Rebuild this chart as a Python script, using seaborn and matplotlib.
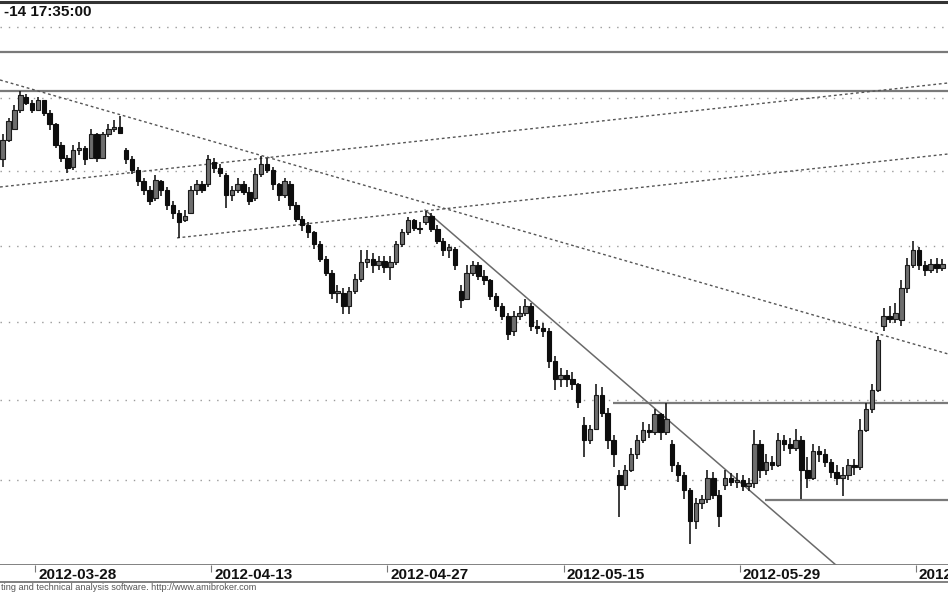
import numpy as np
import pandas as pd
import matplotlib
matplotlib.use("Agg")
import matplotlib.pyplot as plt
import matplotlib.transforms as mtransforms
import seaborn as sns

sns.set_style("white")
plt.rcParams['font.family'] = ['Liberation Sans', 'DejaVu Sans']

# x axis: bar index, 3 bars per trading day
tick_pos = [5.5, 35.5, 65.5, 95.5, 125.5, 155.5]
tick_labels = ["2012-03-28", "2012-04-13", "2012-04-27", "2012-05-15", "2012-05-29", "2012-06-12"]
grid_levels = [2000, 2050, 2100, 2150, 2200, 2250, 2300]

opens = [2208, 2221, 2229, 2242, 2251, 2247, 2242, 2249, 2240, 2232,
         2218, 2209, 2203, 2214, 2216, 2209, 2225, 2209, 2225, 2229,
         2230, 2214, 2208, 2201, 2193, 2187, 2182, 2193, 2187, 2177,
         2172, 2167, 2172, 2187, 2191, 2191, 2206, 2202, 2197, 2184,
         2187, 2191, 2186, 2182, 2198, 2205, 2201, 2191, 2184, 2191,
         2177, 2168, 2164, 2159, 2151, 2141, 2132, 2119, 2119, 2110,
         2120, 2128, 2139, 2141, 2137, 2140, 2136, 2139, 2151, 2159,
         2167, 2162, 2166, 2170, 2161, 2153, 2147, 2148, 2120, 2115,
         2132, 2137, 2130, 2127, 2117, 2110, 2104, 2094, 2104, 2106,
         2110, 2097, 2096, 2094, 2075, 2063, 2066, 2063, 2060, 2034,
         2025, 2032, 2053, 2042, 2025, 2003, 1997, 2006, 2016, 2025,
         2031, 2030, 2041, 2030, 2022, 2009, 2003, 1994, 1975, 1986,
         1988, 2001, 1991, 1997, 2001, 1999, 2000, 1996, 1998, 2022,
         2006, 2011, 2009, 2025, 2022, 2020, 2025, 2006, 2001, 2018,
         2016, 2011, 2005, 2001, 2003, 2009, 2008, 2031, 2044, 2056,
         2097, 2104, 2102, 2101, 2122, 2137, 2147, 2137, 2134, 2138, 2135]
closes = [2221, 2234, 2242, 2252, 2247, 2242, 2249, 2240, 2232, 2218,
          2209, 2202, 2214, 2216, 2208, 2225, 2209, 2225, 2229, 2230,
          2226, 2208, 2201, 2193, 2187, 2180, 2194, 2187, 2177, 2172,
          2166, 2170, 2187, 2191, 2187, 2208, 2202, 2199, 2184, 2187,
          2191, 2186, 2180, 2198, 2205, 2201, 2191, 2184, 2193, 2177,
          2168, 2164, 2159, 2151, 2141, 2132, 2119, 2120, 2110, 2120,
          2128, 2139, 2141, 2137, 2140, 2136, 2139, 2151, 2159, 2167,
          2162, 2161, 2170, 2161, 2153, 2147, 2149, 2137, 2114, 2132,
          2137, 2130, 2127, 2117, 2110, 2104, 2092, 2104, 2106, 2110,
          2097, 2096, 2094, 2075, 2063, 2066, 2063, 2060, 2049, 2025,
          2032, 2053, 2042, 2025, 2016, 1997, 2006, 2016, 2025, 2031,
          2030, 2041, 2030, 2038, 2009, 2003, 1994, 1975, 1986, 1988,
          2001, 1991, 1978, 2001, 1999, 2000, 1996, 1998, 2022, 2006,
          2011, 2009, 2025, 2022, 2020, 2025, 2006, 2001, 2018, 2016,
          2011, 2005, 2001, 2003, 2009, 2008, 2031, 2044, 2056, 2088,
          2104, 2102, 2106, 2122, 2137, 2147, 2137, 2134, 2138, 2135, 2138]
highs = [2225, 2236, 2245, 2255, 2253, 2249, 2251, 2249, 2242, 2233,
         2220, 2211, 2218, 2220, 2217, 2229, 2226, 2227, 2232, 2235,
         2238, 2216, 2210, 2203, 2195, 2190, 2197, 2194, 2189, 2180,
         2174, 2174, 2190, 2194, 2193, 2211, 2209, 2205, 2199, 2190,
         2195, 2193, 2189, 2202, 2210, 2209, 2203, 2192, 2195, 2193,
         2179, 2170, 2166, 2160, 2153, 2143, 2134, 2124, 2122, 2123,
         2131, 2147, 2147, 2145, 2143, 2143, 2143, 2153, 2161, 2169,
         2168, 2166, 2173, 2172, 2164, 2155, 2151, 2149, 2124, 2137,
         2140, 2139, 2134, 2128, 2119, 2112, 2106, 2107, 2110, 2115,
         2112, 2101, 2099, 2096, 2078, 2070, 2069, 2068, 2061, 2039,
         2034, 2060, 2058, 2045, 2028, 2006, 2009, 2020, 2028, 2036,
         2035, 2044, 2042, 2048, 2025, 2011, 2005, 1995, 1989, 1991,
         2006, 2005, 1994, 2006, 2004, 2004, 2003, 2001, 2031, 2025,
         2016, 2015, 2029, 2028, 2026, 2032, 2027, 2014, 2022, 2021,
         2019, 2013, 2009, 2008, 2013, 2013, 2038, 2048, 2060, 2091,
         2109, 2110, 2112, 2127, 2142, 2153, 2149, 2140, 2141, 2142, 2141]
lows = [2203, 2220, 2228, 2240, 2245, 2240, 2241, 2238, 2228, 2216,
        2206, 2199, 2201, 2211, 2204, 2208, 2206, 2208, 2223, 2227,
        2225, 2205, 2198, 2190, 2184, 2177, 2180, 2183, 2174, 2168,
        2155, 2166, 2171, 2184, 2185, 2189, 2199, 2196, 2175, 2180,
        2185, 2184, 2177, 2180, 2196, 2199, 2187, 2180, 2182, 2174,
        2166, 2160, 2155, 2148, 2139, 2130, 2115, 2112, 2105, 2105,
        2118, 2126, 2135, 2132, 2134, 2132, 2127, 2137, 2149, 2157,
        2160, 2158, 2164, 2159, 2151, 2143, 2142, 2134, 2109, 2114,
        2130, 2127, 2124, 2114, 2107, 2101, 2088, 2091, 2101, 2104,
        2094, 2092, 2090, 2070, 2056, 2058, 2058, 2056, 2045, 2014,
        2022, 2031, 2039, 2019, 2008, 1977, 1994, 2005, 2013, 2023,
        2026, 2028, 2025, 2028, 2005, 1999, 1988, 1961, 1970, 1982,
        1986, 1988, 1971, 1994, 1996, 1995, 1993, 1993, 1995, 2001,
        2003, 2006, 2008, 2018, 2016, 2018, 1988, 1995, 2000, 2011,
        2008, 2001, 1997, 1990, 2000, 2003, 2006, 2030, 2042, 2055,
        2094, 2099, 2099, 2097, 2119, 2135, 2134, 2130, 2132, 2132, 2133]

# drawn trend lines (bar index, price)
down_x, down_y = [-0.46, 160.95], [2262.7, 2079.3]
up1_x, up1_y = [-0.46, 160.95], [2189.2, 2260.6]
up2_x, up2_y = [29.68, 160.95], [2155.1, 2211.6]
fall_x, fall_y = [71.9, 143.9], [2173.8, 1942.0]
hline_levels = [2282.4, 2255.1, 2048.1, 1987.7]
hline_starts = [-0.46, -0.46, 103.9, 129.8]

df = pd.DataFrame({"open": opens, "high": highs, "low": lows, "close": closes})
df["bar"] = np.arange(len(df))
up = df["close"] >= df["open"]

fig = plt.figure(figsize=(9.48, 5.93), dpi=100)
ax = fig.add_axes([0, 28 / 593, 1, 563 / 593])
ax2 = fig.add_axes([0, 11 / 593, 1, 17 / 593], sharex=ax)

ax.set_yscale("log")
ax.set_ylim(1948.2, 2317.8)
ax.set_xlim(-0.46, 160.95)

for lvl in grid_levels:
    ax.axhline(lvl, color="#9a9a9a", lw=1.0, linestyle=(0, (1, 5)), zorder=1)

for lvl, x0 in zip(hline_levels, hline_starts):
    ax.hlines(lvl, x0, 160.95, color="#7a7a7a", lw=1.6, zorder=2)

dotted = (0, (2, 2))
sns.lineplot(x=down_x, y=down_y, ax=ax, color="#555555", lw=1.0, linestyle=dotted, zorder=2)
sns.lineplot(x=up1_x, y=up1_y, ax=ax, color="#555555", lw=1.0, linestyle=dotted, zorder=2)
sns.lineplot(x=up2_x, y=up2_y, ax=ax, color="#555555", lw=1.0, linestyle=dotted, zorder=2)
sns.lineplot(x=fall_x, y=fall_y, ax=ax, color="#6a6a6a", lw=1.1, zorder=2)

# candles
ax.vlines(df["bar"], df["low"], df["high"], color="#1a1a1a", lw=1.2, zorder=3)
body_lo = np.minimum(df["open"], df["close"])
body_h = np.abs(df["close"] - df["open"])
ax.bar(df["bar"][up], body_h[up], bottom=body_lo[up], width=0.75,
       color="#6e6e6e", edgecolor="#1a1a1a", lw=0.8, zorder=4)
ax.bar(df["bar"][~up], body_h[~up], bottom=body_lo[~up], width=0.75,
       color="#0d0d0d", edgecolor="#0d0d0d", lw=0.8, zorder=4)

ax.tick_params(which="both", left=False, labelleft=False, bottom=False, labelbottom=False)
ax.set_xlabel("")
ax.set_ylabel("")
for s in ["left", "right"]:
    ax.spines[s].set_visible(False)
ax.spines["top"].set_color("#333333")
ax.spines["top"].set_linewidth(2.2)
ax.spines["bottom"].set_color("#777777")
ax.spines["bottom"].set_linewidth(1.3)

# date strip
ax2.set_ylim(0, 1)
ax2.set_yticks([])
ax2.set_xticks(tick_pos)
ax2.tick_params(axis="x", top=True, bottom=False, labelbottom=False, direction="in",
                length=5, width=0.8, color="#777777")
for s in ["left", "right", "top"]:
    ax2.spines[s].set_visible(False)
ax2.spines["bottom"].set_color("#777777")
ax2.spines["bottom"].set_linewidth(1.3)
trans = mtransforms.blended_transform_factory(ax2.transData, ax2.transAxes)
shift = mtransforms.ScaledTranslation(3 / 100, 0, fig.dpi_scale_trans)
for p, lab in zip(tick_pos, tick_labels):
    ax2.text(p, 0.42, lab, transform=trans + shift, ha="left", va="center",
             fontsize=11, fontweight="bold", color="#111111")

# visible parts of the title and the footer, as in the cropped reference
fig.text(4 / 948, 1 - 12 / 593, "-14 17:35:00", ha="left", va="center",
         fontsize=11, fontweight="bold", color="#111111")
fig.text(1 / 948, 1 - 588 / 593,
         "ting and technical analysis software. http://www.amibroker.com",
         ha="left", va="center", fontsize=6.6, color="#555555")

fig.savefig("out.png", dpi=100)
